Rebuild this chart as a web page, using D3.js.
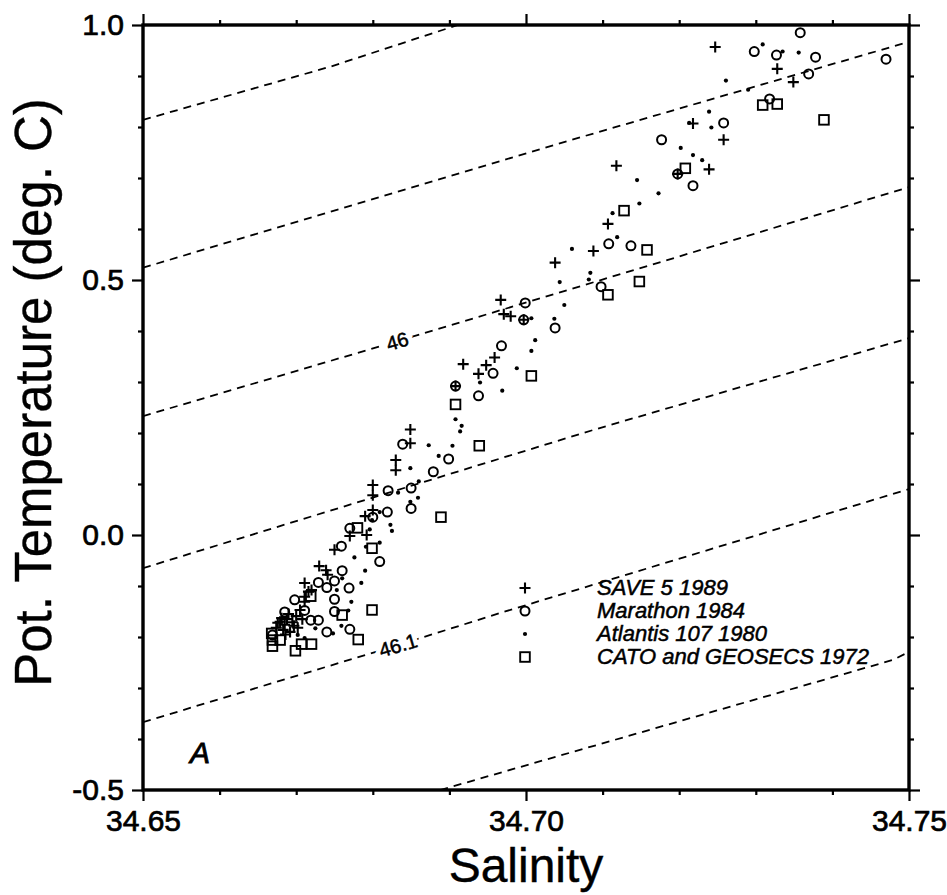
<!DOCTYPE html>
<html>
<head>
<meta charset="utf-8">
<script src="https://cdn.jsdelivr.net/npm/d3@7"></script>
<style>
  body { margin: 0; background: #fff; }
  svg { display: block; font-family: "Liberation Sans", Arial, Helvetica, sans-serif; }
</style>
</head>
<body>
<div id="chart"></div>
<script>
// salinity / potential temperature pairs
const save5 = [
  [34.7247,0.957],[34.7328,0.914],[34.7349,0.888],[34.7218,0.807],[34.7258,0.775],
  [34.7118,0.724],[34.7239,0.717],[34.7198,0.708],[34.7107,0.610],[34.7088,0.557],
  [34.7038,0.534],[34.6967,0.461],[34.6971,0.433],[34.6980,0.429],[34.6997,0.422],
  [34.6918,0.335],[34.6948,0.333],[34.6959,0.348],[34.6938,0.316],[34.6908,0.292],
  [34.6849,0.207],[34.6849,0.180],[34.6830,0.147],[34.6830,0.127],[34.6800,0.098],
  [34.6800,0.078],[34.6800,0.049],[34.6790,0.037],[34.6770,-0.002],[34.6792,0.000],
  [34.6750,-0.029],[34.6730,-0.061],[34.6739,-0.069],[34.6741,-0.078],[34.6711,-0.094],
  [34.6716,-0.111],[34.6711,-0.121],[34.6711,-0.131],[34.6720,-0.108],[34.6690,-0.155],
  [34.6681,-0.163],[34.6679,-0.170],[34.6685,-0.176],[34.6695,-0.171],[34.6702,-0.182],
  [34.6692,-0.190],[34.6700,-0.159],[34.6683,-0.186],[34.6705,-0.147],[34.6674,-0.182],
  [34.6688,-0.165],[34.6697,-0.178],[34.6676,-0.172],[34.6686,-0.195],[34.6708,-0.165]
];
const marathon = [
  [34.7298,0.948],[34.7327,0.941],[34.7358,0.985],[34.7378,0.937],[34.7369,0.904],
  [34.7470,0.933],[34.7318,0.855],[34.7258,0.808],[34.7177,0.775],[34.7198,0.708],
  [34.7218,0.685],[34.7108,0.571],[34.7137,0.567],[34.7098,0.487],[34.7038,0.406],
  [34.6999,0.455],[34.6997,0.422],[34.6968,0.371],[34.6957,0.317],[34.6908,0.292],
  [34.6938,0.273],[34.6839,0.178],[34.6899,0.149],[34.6879,0.124],[34.6850,0.092],
  [34.6820,0.087],[34.6850,0.052],[34.6800,0.035],[34.6819,0.045],[34.6770,0.013],
  [34.6759,-0.022],[34.6809,-0.052],[34.6760,-0.070],[34.6750,-0.090],[34.6729,-0.093],
  [34.6740,-0.103],[34.6769,-0.104],[34.6750,-0.126],[34.6750,-0.150],[34.6711,-0.148],
  [34.6719,-0.167],[34.6729,-0.167],[34.6740,-0.190],[34.6770,-0.185],[34.6669,-0.196],
  [34.6685,-0.151],[34.6698,-0.127]
];
const atlantis = [
  [34.7309,0.962],[34.7335,0.948],[34.7356,0.946],[34.7261,0.891],[34.7290,0.873],
  [34.7239,0.830],[34.7242,0.799],[34.7213,0.808],[34.7202,0.759],[34.7218,0.745],
  [34.7230,0.735],[34.7145,0.696],[34.7173,0.670],[34.7148,0.650],[34.7113,0.631],
  [34.7119,0.584],[34.7060,0.561],[34.7084,0.514],[34.7082,0.501],[34.7044,0.496],
  [34.7050,0.451],[34.7037,0.424],[34.7007,0.425],[34.7012,0.382],[34.7007,0.361],
  [34.6988,0.327],[34.6940,0.299],[34.6969,0.283],[34.6908,0.227],[34.6916,0.214],
  [34.6914,0.203],[34.6873,0.176],[34.6904,0.175],[34.6886,0.155],[34.6849,0.131],
  [34.6860,0.105],[34.6833,0.083],[34.6859,0.073],[34.6849,0.065],[34.6809,0.045],
  [34.6823,0.020],[34.6825,0.008],[34.6796,0.011],[34.6799,0.029],[34.6809,-0.015],
  [34.6776,-0.044],[34.6791,-0.023],[34.6790,-0.070],[34.6760,-0.085],[34.6753,-0.108],
  [34.6785,-0.094],[34.6772,-0.131],[34.6768,-0.148],[34.6725,-0.183],[34.6748,-0.193],
  [34.6759,-0.178],[34.6702,-0.196],[34.6711,-0.202]
];
const catoGeosecs = [
  [34.7309,0.843],[34.7328,0.845],[34.7389,0.814],[34.7208,0.719],[34.7128,0.636],
  [34.7158,0.559],[34.7107,0.471],[34.7148,0.497],[34.7007,0.312],[34.6908,0.256],
  [34.6939,0.175],[34.6889,0.035],[34.6780,0.014],[34.6799,-0.026],[34.6719,-0.120],
  [34.6799,-0.147],[34.6760,-0.157],[34.6781,-0.205],[34.6720,-0.214],[34.6707,-0.214],
  [34.6699,-0.227],[34.6668,-0.193],[34.6669,-0.206],[34.6669,-0.218],[34.6679,-0.206]
];

// sigma-4 isopycnals (dashed), traced as S/T vertices
const iso4590 = [[34.6500,0.814],[34.6744,0.918],[34.6911,1.000]];
const iso4595 = [[34.6500,0.524],[34.7044,0.768],[34.7500,0.967]];
const iso4600 = [[34.6500,0.233],[34.6832,0.380],[34.7025,0.467],[34.7500,0.682]];
const iso4605 = [[34.6500,-0.065],[34.7090,0.207],[34.7500,0.386]];
const iso4610 = [[34.6500,-0.367],[34.6833,-0.216],[34.6966,-0.153],[34.7500,0.090]];
const iso4615 = [[34.6888,-0.500],[34.7479,-0.245],[34.7500,-0.229]];
const isoLabels = [["46", 34.6832, 0.380], ["46.1", 34.6833, -0.216]];

const xMajor = [34.65, 34.70, 34.75];
const xMinor = [34.66, 34.67, 34.68, 34.69, 34.71, 34.72, 34.73, 34.74];
const yMajor = [-0.5, 0.0, 0.5, 1.0];
const yMinor = [-0.4, -0.3, -0.2, -0.1, 0.1, 0.2, 0.3, 0.4, 0.6, 0.7, 0.8, 0.9];
const legendNames = ["SAVE 5 1989", "Marathon 1984", "Atlantis 107 1980", "CATO and GEOSECS 1972"];

const W = 947, H = 895;
const margin = { top: 25, right: 38, bottom: 105, left: 143 };
const width = W - margin.left - margin.right;
const height = H - margin.top - margin.bottom;

const x = d3.scaleLinear().domain([34.65, 34.75]).range([0, width]);
const y = d3.scaleLinear().domain([-0.5, 1.0]).range([height, 0]);

const svg = d3.select("#chart").append("svg")
  .attr("width", W)
  .attr("height", H);

svg.append("defs").append("clipPath").attr("id", "plot-clip")
  .append("rect").attr("width", width).attr("height", height);

const g = svg.append("g").attr("transform", `translate(${margin.left},${margin.top})`);

// isopycnals
const line = d3.line().x(d => x(d[0])).y(d => y(d[1]));
const isoG = g.append("g").attr("clip-path", "url(#plot-clip)");
[iso4590, iso4595, iso4600, iso4605, iso4610, iso4615].forEach(pts => {
  isoG.append("path")
    .attr("d", line(pts))
    .attr("fill", "none")
    .attr("stroke", "#000")
    .attr("stroke-width", 1.8)
    .attr("stroke-dasharray", "8,6");
});
// labels sit on the line, white halo knocks out the dashes
const slopeAngle = -Math.atan(0.296) * 180 / Math.PI;
isoLabels.forEach(([txt, s, t]) => {
  const lab = isoG.append("g")
    .attr("transform", `translate(${x(s)},${y(t)}) rotate(${slopeAngle})`);
  lab.append("text")
    .attr("text-anchor", "middle")
    .attr("dy", "0.36em")
    .attr("font-size", 20)
    .attr("fill", "#fff")
    .attr("stroke", "#fff")
    .attr("stroke-width", 10)
    .text(txt);
  lab.append("text")
    .attr("text-anchor", "middle")
    .attr("dy", "0.36em")
    .attr("font-size", 20)
    .attr("fill", "#000")
    .attr("stroke", "#000")
    .attr("stroke-width", 0.5)
    .text(txt);
});

// symbols
const drawSymbol = {
  plus: sel => sel.append("path").attr("d", "M-5.5,0H5.5M0,-5.5V5.5")
    .attr("stroke", "#000").attr("stroke-width", 2.1).attr("fill", "none"),
  circle: sel => sel.append("circle").attr("r", 4.5)
    .attr("stroke", "#000").attr("stroke-width", 2).attr("fill", "none"),
  dot: sel => sel.append("circle").attr("r", 2.1).attr("fill", "#000"),
  square: sel => sel.append("rect").attr("x", -4.8).attr("y", -4.8)
    .attr("width", 9.6).attr("height", 9.6)
    .attr("stroke", "#000").attr("stroke-width", 1.9).attr("fill", "none")
};
const series = [
  [save5, "plus"], [marathon, "circle"], [atlantis, "dot"], [catoGeosecs, "square"]
];
const ptsG = g.append("g").attr("clip-path", "url(#plot-clip)");
series.forEach(([data, sym]) => {
  const s = ptsG.append("g")
    .selectAll("g")
    .data(data)
    .join("g")
    .attr("transform", d => `translate(${x(d[0])},${y(d[1])})`);
  drawSymbol[sym](s);
});

// axes: outward ticks on all four sides
function styleAxis(sel) {
  sel.select(".domain").remove();
  sel.selectAll(".tick line").attr("stroke", "#000").attr("stroke-width", 2.2);
  sel.selectAll(".tick text")
    .attr("font-size", 30)
    .attr("fill", "#000")
    .attr("stroke", "#000")
    .attr("stroke-width", 0.7)
    .attr("font-family", "Liberation Sans, Arial, sans-serif");
}
const noLabel = () => "";
g.append("g").attr("transform", `translate(0,${height})`)
  .call(d3.axisBottom(x).tickValues(xMinor).tickSize(5).tickFormat(noLabel)).call(styleAxis);
g.append("g").attr("transform", `translate(0,${height})`)
  .call(d3.axisBottom(x).tickValues(xMajor).tickSize(11).tickPadding(9).tickFormat(d => d.toFixed(2)))
  .call(styleAxis);
g.append("g")
  .call(d3.axisTop(x).tickValues(xMinor).tickSize(5).tickFormat(noLabel)).call(styleAxis);
g.append("g")
  .call(d3.axisTop(x).tickValues(xMajor).tickSize(11).tickFormat(noLabel)).call(styleAxis);
g.append("g")
  .call(d3.axisLeft(y).tickValues(yMinor).tickSize(5).tickFormat(noLabel)).call(styleAxis);
g.append("g")
  .call(d3.axisLeft(y).tickValues(yMajor).tickSize(11).tickPadding(8).tickFormat(d => d.toFixed(1)))
  .call(styleAxis);
g.append("g").attr("transform", `translate(${width},0)`)
  .call(d3.axisRight(y).tickValues(yMinor).tickSize(5).tickFormat(noLabel)).call(styleAxis);
g.append("g").attr("transform", `translate(${width},0)`)
  .call(d3.axisRight(y).tickValues(yMajor).tickSize(11).tickFormat(noLabel)).call(styleAxis);

// frame
g.append("rect")
  .attr("width", width)
  .attr("height", height)
  .attr("fill", "none")
  .attr("stroke", "#000")
  .attr("stroke-width", 3.4);

// legend
const legend = g.append("g").attr("transform", `translate(${x(34.65) + 382},${563})`);
legendNames.forEach((name, i) => {
  const row = legend.append("g").attr("transform", `translate(0,${i * 23})`);
  drawSymbol[series[i][1]](row);
  row.append("text")
    .attr("x", 72)
    .attr("y", 7)
    .attr("font-size", 22)
    .attr("font-style", "italic")
    .attr("stroke", "#000")
    .attr("stroke-width", 0.5)
    .text(name);
});

// panel letter
g.append("text")
  .attr("x", 47)
  .attr("y", 738)
  .attr("font-size", 30)
  .attr("font-style", "italic")
  .attr("stroke", "#000")
  .attr("stroke-width", 0.9)
  .text("A");

// axis titles
svg.append("text")
  .attr("x", margin.left + width / 2)
  .attr("y", 882)
  .attr("text-anchor", "middle")
  .attr("font-size", 48)
  .attr("stroke", "#000")
  .attr("stroke-width", 0.4)
  .text("Salinity");
svg.append("text")
  .attr("transform", `translate(51,${margin.top + height / 2 - 15}) rotate(-90)`)
  .attr("text-anchor", "middle")
  .attr("font-size", 51)
  .attr("stroke", "#000")
  .attr("stroke-width", 0.4)
  .text("Pot. Temperature (deg. C)");
</script>
</body>
</html>
